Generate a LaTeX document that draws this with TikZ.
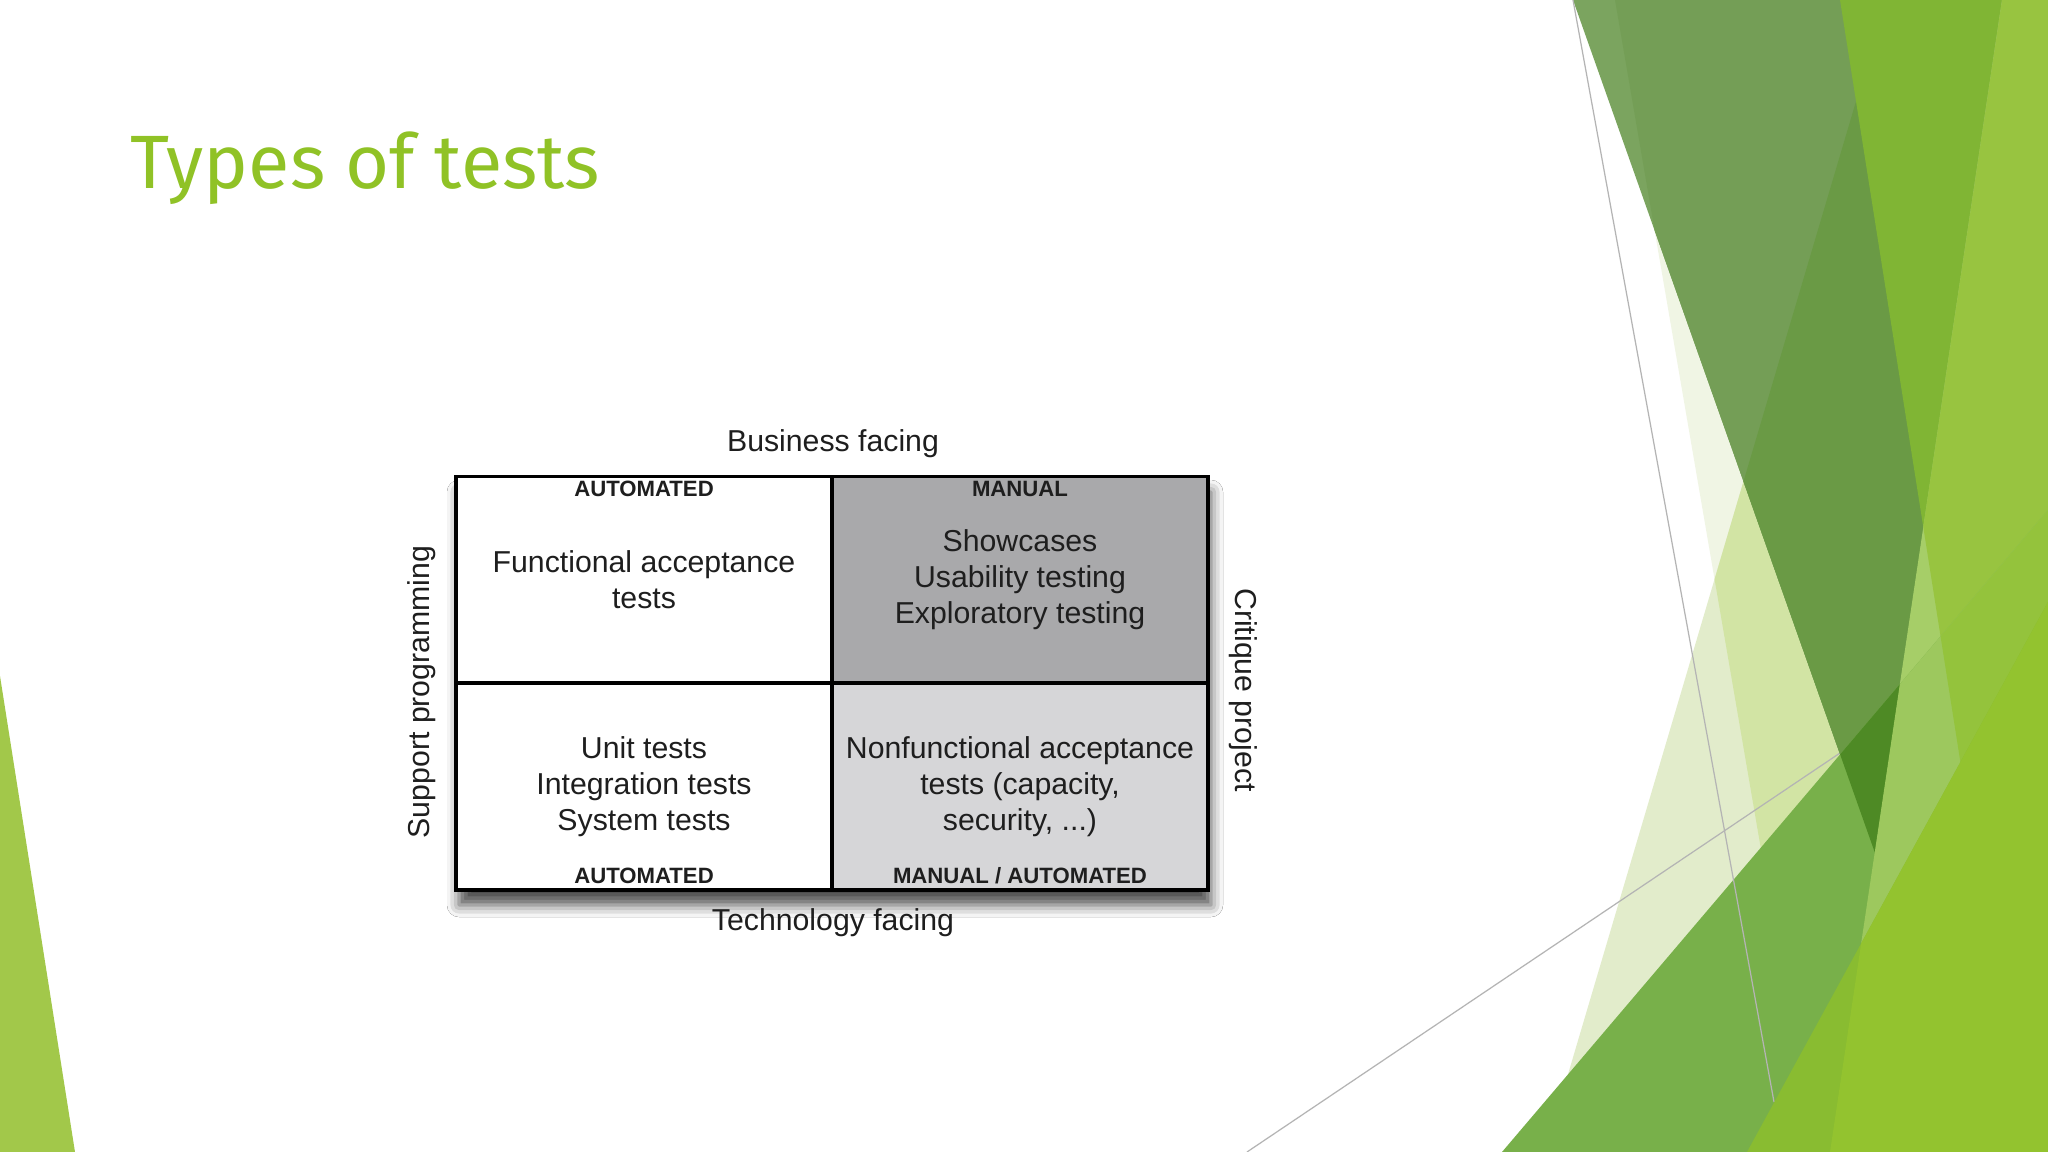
\documentclass[tikz,border=0pt]{standalone}
\usepackage{fontspec}
\setmainfont{Liberation Sans}
\newfontfamily\titlefont{Fira Sans}
\usetikzlibrary{positioning,shadows.blur}

\definecolor{facetgreen}{HTML}{90C226}
\definecolor{txtgray}{HTML}{1E1E1E}
\definecolor{darkcell}{HTML}{A9A9AB}
\definecolor{lightcell}{HTML}{D6D6D8}
\definecolor{thinline}{HTML}{B4B4B4}
\definecolor{paleA}{HTML}{F0F5E4}
\definecolor{paleB}{HTML}{E2ECCB}
\definecolor{paleC}{HTML}{D2E4A4}
\definecolor{mutedA}{HTML}{7BA45F}
\definecolor{mutedB}{HTML}{749E56}
\definecolor{mutedC}{HTML}{6A9A45}
\definecolor{brightA}{HTML}{80B534}
\definecolor{limeA}{HTML}{A6CE68}
\definecolor{limeB}{HTML}{98C440}
\definecolor{bandA}{HTML}{78B04A}
\definecolor{bandB}{HTML}{4E8A25}
\definecolor{bandC}{HTML}{9DC85E}
\definecolor{bandD}{HTML}{94C33C}
\definecolor{baseA}{HTML}{89BC31}
\definecolor{baseB}{HTML}{93C32F}
\definecolor{leftwedge}{HTML}{A2C84A}

\begin{document}
\begin{tikzpicture}[x=0.01cm,y=-0.01cm,
    cell/.style={draw=black,line width=1pt,minimum width=3.76cm,minimum height=2.065cm,
      inner sep=0pt,align=center,text=txtgray,font=\fontsize{8.6}{10.25}\selectfont},
    tag/.style={inner sep=0pt,text=txtgray,font=\fontsize{6.3}{7}\selectfont\bfseries},
    sidelabel/.style={inner sep=0pt,text=txtgray,font=\fontsize{8.6}{10}\selectfont}]
  \useasboundingbox[fill=white] (0,0) rectangle (2048,1152);

  \coordinate (pa1) at (1573,0);   \coordinate (pa2) at (2002,0);   \coordinate (pa3) at (1875,853);
  \coordinate (pb1) at (1886,0);   \coordinate (pb2) at (1545,1152);
  \coordinate (pc1) at (1615,0);   \coordinate (pc2) at (1813,1152);
  \coordinate (pd1) at (1840,0);   \coordinate (pd2) at (2022,1152);
  \coordinate (pe1) at (2002,0);   \coordinate (pe2) at (1830,1152);
  \coordinate (pf1) at (1747,1152); \coordinate (pf2) at (2048,602);
  \coordinate (pg1) at (1502,1152); \coordinate (pg2) at (2048,510);
  \coordinate (tr) at (2048,0);    \coordinate (br) at (2048,1152);

  \fill[paleA] (pc1) -- (tr) -- (br) -- (pc2) -- cycle;
  \fill[paleB] (pb1) -- (tr) -- (br) -- (pb2) -- cycle;
  \begin{scope}
    \clip (pb1) -- (tr) -- (br) -- (pb2) -- cycle;
    \fill[paleC] (pc1) -- (tr) -- (br) -- (pc2) -- cycle;
  \end{scope}
  \draw[thinline,line width=0.35pt] (1247,1152) -- (1840,753);

  \fill[mutedA] (pa1) -- (pa2) -- (pa3) -- cycle;
  \begin{scope}
    \clip (pa1) -- (pa2) -- (pa3) -- cycle;
    \fill[mutedB] (pc1) -- (tr) -- (br) -- (pc2) -- cycle;
    \fill[mutedC] (pb1) -- (tr) -- (br) -- (pb2) -- cycle;
    \fill[brightA] (pd1) -- (tr) -- (br) -- (pd2) -- cycle;
  \end{scope}
  \fill[limeA] (pe1) -- (tr) -- (br) -- (pe2) -- cycle;
  \begin{scope}
    \clip (pe1) -- (tr) -- (br) -- (pe2) -- cycle;
    \fill[limeB] (pd1) -- (tr) -- (br) -- (pd2) -- cycle;
  \end{scope}

  \fill[bandA] (pg1) -- (pg2) -- (br) -- cycle;
  \begin{scope}
    \clip (pg1) -- (pg2) -- (br) -- cycle;
    \fill[bandB] (pa1) -- (pa2) -- (pa3) -- cycle;
    \fill[bandC] (pe1) -- (tr) -- (br) -- (pe2) -- cycle;
    \clip (pe1) -- (tr) -- (br) -- (pe2) -- cycle;
    \fill[bandD] (pd1) -- (tr) -- (br) -- (pd2) -- cycle;
  \end{scope}
  \draw[thinline,line width=0.35pt] (1573,0) -- (1774,1102);

  \fill[baseA] (pf1) -- (pf2) -- (br) -- cycle;
  \begin{scope}
    \clip (pf1) -- (pf2) -- (br) -- cycle;
    \fill[baseB] (pe1) -- (tr) -- (br) -- (pe2) -- cycle;
  \end{scope}

  \fill[leftwedge] (0,676) -- (75,1152) -- (0,1152) -- cycle;

  \node[anchor=base west,inner sep=0pt,text=facetgreen,font=\titlefont\fontsize{21.5}{24}\selectfont]
    (title) at (130,189) {Types of tests};

  \path[blur shadow={shadow xshift=0.03cm,shadow yshift=-0.15cm,shadow blur radius=0.12cm,shadow opacity=70}]
    (456,477) rectangle (1208,890);
  \node[cell,fill=white] (fa) at (644,580) {Functional acceptance\\tests};
  \node[cell,fill=darkcell] (ex) at (1020,580) {Showcases\\Usability testing\\Exploratory testing};
  \node[cell,fill=white] (ut) at (644,786.5) {Unit tests\\Integration tests\\System tests};
  \node[cell,fill=lightcell] (nf) at (1020,786.5) {Nonfunctional acceptance\\tests (capacity,\\security, ...)};

  \node[tag] (tagfa) at ([yshift=-0.14cm]fa.north) {AUTOMATED};
  \node[tag] (tagex) at ([yshift=-0.14cm]ex.north) {MANUAL};
  \node[tag] (tagut) at ([yshift=0.16cm]ut.south) {AUTOMATED};
  \node[tag] (tagnf) at ([yshift=0.16cm]nf.south) {MANUAL / AUTOMATED};

  \node[sidelabel] (business) at (833,444) {Business facing};
  \node[sidelabel] (technology) at (833,923) {Technology facing};
  \node[sidelabel,rotate=90] (support) at (422,692) {Support programming};
  \node[sidelabel,rotate=-90] (critique) at (1243,690) {Critique project};
\end{tikzpicture}
\end{document}
